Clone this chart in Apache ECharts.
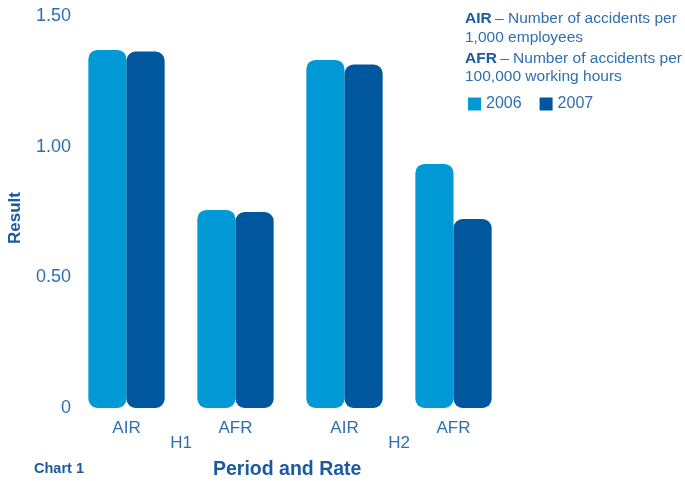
<!DOCTYPE html>
<html>
<head>
<meta charset="utf-8">
<script src="https://cdn.jsdelivr.net/npm/echarts@6/dist/echarts.min.js"></script>
<style>html,body{margin:0;padding:0;background:#fff}#c{width:685px;height:481px}</style>
</head>
<body>
<div id="c"></div>
<script>
var categories = ['AIR', 'AFR', 'AIR', 'AFR'];
var periods = ['H1', 'H2'];
var seriesNames = ['2006', '2007'];
var values2006 = [1.37, 0.758, 1.332, 0.934];
var values2007 = [1.364, 0.75, 1.314, 0.723];
var yTicks = [0, 0.5, 1.0, 1.5];
var yLabels = ['0', '0.50', '1.00', '1.50'];

var labelColor = '#2f6fb0';
var boldColor = '#1c5aa0';
var font = '"Liberation Sans", Arial, sans-serif';

var chart = echarts.init(document.getElementById('c'));
chart.setOption({
  animation: false,
  textStyle: { fontFamily: font },
  grid: { left: 72, right: 177, top: 16, bottom: 73, containLabel: false },
  legend: {
    data: seriesNames,
    left: 463, top: 91,
    itemWidth: 13, itemHeight: 13, itemGap: 18,
    icon: 'rect',
    textStyle: { color: labelColor, fontSize: 16, fontFamily: font, padding: [2, 0, 0, 0] }
  },
  xAxis: [{
    type: 'category',
    data: categories,
    axisLine: { show: false }, axisTick: { show: false },
    axisLabel: { color: labelColor, fontSize: 17, margin: 12, fontFamily: font }
  }, {
    type: 'category',
    data: periods,
    position: 'bottom',
    offset: 16,
    axisLine: { show: false }, axisTick: { show: false },
    axisLabel: { color: labelColor, fontSize: 17, margin: 11, fontFamily: font }
  }],
  yAxis: {
    type: 'value', min: 0, max: 1.5, interval: 0.5,
    splitLine: { show: false }, axisLine: { show: false }, axisTick: { show: false },
    axisLabel: {
      color: labelColor, fontSize: 18, margin: 1, fontFamily: font,
      formatter: function (v) { var i = yTicks.indexOf(v); return i >= 0 ? yLabels[i] : ''; }
    }
  },
  series: [{
    name: seriesNames[0], type: 'bar', data: values2006, xAxisIndex: 0,
    barGap: '0%', barCategoryGap: '30%',
    itemStyle: { color: '#0099d5', borderRadius: 9 }
  }, {
    name: seriesNames[1], type: 'bar', data: values2007, xAxisIndex: 0,
    barGap: '0%', barCategoryGap: '30%',
    itemStyle: { color: '#00579e', borderRadius: 9 }
  }],
  graphic: [
    { type: 'text', left: 465, top: 11, style: { rich: { b: { fontWeight: 'bold', fill: boldColor, fontSize: 15.5, fontFamily: font }, n: { fill: labelColor, fontSize: 15.5, fontFamily: font } }, text: '{b|AIR} {n|– Number of accidents per}' } },
    { type: 'text', left: 465, top: 30, style: { text: '1,000 employees', fill: labelColor, fontSize: 15.5, fontFamily: font } },
    { type: 'text', left: 465, top: 51, style: { rich: { b: { fontWeight: 'bold', fill: boldColor, fontSize: 15.5, fontFamily: font }, n: { fill: labelColor, fontSize: 15.5, fontFamily: font } }, text: '{b|AFR} {n|– Number of accidents per}' } },
    { type: 'text', left: 465, top: 69, style: { text: '100,000 working hours', fill: labelColor, fontSize: 15.5, fontFamily: font } },
    { type: 'text', x: 15, y: 218, rotation: Math.PI / 2, style: { text: 'Result', fill: boldColor, fontWeight: 'bold', fontSize: 17, fontFamily: font, align: 'center', verticalAlign: 'middle' } },
    { type: 'text', left: 213, top: 460, style: { text: 'Period and Rate', fill: boldColor, fontWeight: 'bold', fontSize: 19.5, fontFamily: font } },
    { type: 'text', left: 34, top: 461, style: { text: 'Chart 1', fill: boldColor, fontWeight: 'bold', fontSize: 14.5, fontFamily: font } }
  ]
});
</script>
</body>
</html>
